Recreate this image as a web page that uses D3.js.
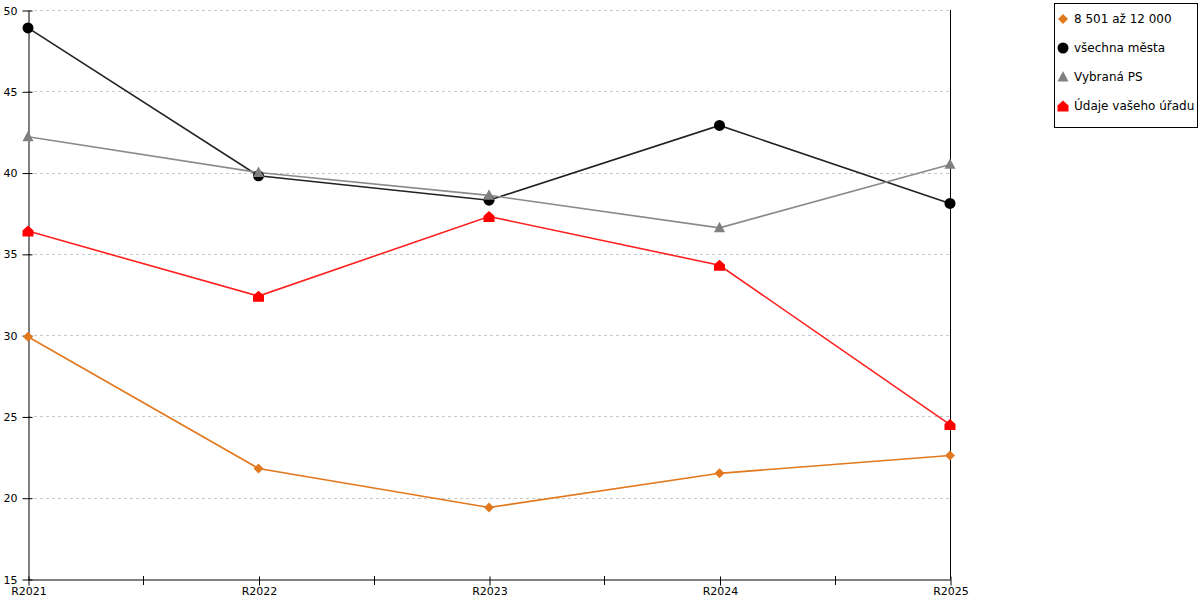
<!DOCTYPE html>
<html><head><meta charset="utf-8">
<script src="https://cdn.jsdelivr.net/npm/d3@7"></script>
<style>body{margin:0;background:#fff;}svg{display:block;font-family:"DejaVu Sans",Verdana,sans-serif;}</style>
</head><body>
<svg id="c" width="1200" height="600"></svg>
<script>
const categories = ["R2021","R2022","R2023","R2024","R2025"];
const seriesNames = ["8 501 až 12 000","všechna města","Vybraná PS","Údaje vašeho úřadu"];
const seriesColors = ["#e2781e","#000000","#808080","#ff0000"];
const lineColors = ["#e2781e","#222222","#8a8a8a","#ff2020"];
const seriesShapes = ["diamond","circle","triangle","house"];
const valsOrange = [29.9, 21.8, 19.4, 21.5, 22.6];
const valsBlack  = [48.9, 39.8, 38.3, 42.9, 38.1];
const valsGray   = [42.2, 40.0, 38.6, 36.6, 40.5];
const valsRed    = [36.4, 32.4, 37.3, 34.3, 24.5];
const yTicks = [15,20,25,30,35,40,45,50];
const series = [valsOrange, valsBlack, valsGray, valsRed];

const svg = d3.select("#c");
const L=28, R=950, T=10, B=579;
const x = d3.scalePoint().domain(categories).range([L,R]);
const y = d3.scaleLinear().domain([15,50]).range([B,T]);

// grid
svg.append("g").selectAll("line").data(yTicks.filter(d=>d>15)).join("line")
  .attr("x1",L).attr("x2",R).attr("y1",d=>Math.round(y(d))+0.5).attr("y2",d=>Math.round(y(d))+0.5)
  .attr("stroke","#c8c8c8").attr("stroke-dasharray","3,3").attr("stroke-width",1);

// right line
svg.append("line").attr("x1",R+0.5).attr("x2",R+0.5).attr("y1",T).attr("y2",B).attr("stroke","#000");

// y axis
const ya = svg.append("g").attr("transform",`translate(${L+0.5},0.5)`)
  .call(d3.axisLeft(y).tickValues(yTicks).tickSize(6).tickPadding(5).tickSizeOuter(0));
ya.select(".domain").attr("stroke","#000");
ya.selectAll(".tick line").attr("x2",4).attr("x1",-6);
ya.selectAll("text").attr("font-size","11px").attr("fill","#000").attr("font-family","DejaVu Sans");

// x axis
const xa = svg.append("g").attr("transform",`translate(0.5,${B+0.5})`)
  .call(d3.axisBottom(x).tickSize(6).tickPadding(2).tickSizeOuter(0));
xa.select(".domain").attr("stroke","#000");
xa.selectAll(".tick line").attr("y1",-3).attr("y2",6);
xa.selectAll("text").attr("font-size","11px").attr("fill","#000").attr("font-family","DejaVu Sans");
// midpoint ticks
const mids = d3.pairs(categories).map(p=>(x(p[0])+x(p[1]))/2);
svg.append("g").selectAll("line").data(mids).join("line")
  .attr("x1",d=>Math.round(d)+0.5).attr("x2",d=>Math.round(d)+0.5).attr("y1",B-3).attr("y2",B+6).attr("stroke","#000");

function marker(g, shape, color, cx, cy, s){
  const h = s/2;
  if(shape==="circle") g.append("circle").attr("cx",cx).attr("cy",cy).attr("r",h).attr("fill",color);
  else if(shape==="diamond") g.append("path").attr("d",`M${cx},${cy-h}L${cx+h},${cy}L${cx},${cy+h}L${cx-h},${cy}Z`).attr("fill",color);
  else if(shape==="triangle") g.append("path").attr("d",`M${cx},${cy-h*1.1}L${cx+h},${cy+h*0.8}L${cx-h},${cy+h*0.8}Z`).attr("fill",color);
  else if(shape==="house") g.append("path").attr("d",`M${cx},${cy-h}L${cx+h},${cy-h*0.1}L${cx+h},${cy+h}L${cx-h},${cy+h}L${cx-h},${cy-h*0.1}Z`).attr("fill",color);
}

const line = d3.line().x((d,i)=>x(categories[i])).y(d=>y(d));
series.forEach((vals,k)=>{
  svg.append("path").datum(vals).attr("d",line).attr("fill","none")
    .attr("stroke",lineColors[k]).attr("stroke-width",1.6);
});
series.forEach((vals,k)=>{
  const g = svg.append("g");
  vals.forEach((v,i)=>marker(g, seriesShapes[k], seriesColors[k], x(categories[i]), y(v), k===0?10:11));
});

// legend
const lg = svg.append("g");
lg.append("rect").attr("x",1054.5).attr("y",3.5).attr("width",143).attr("height",124)
  .attr("fill","#fff").attr("stroke","#000");
seriesNames.forEach((n,k)=>{
  const cy = 19 + k*29;
  marker(lg, seriesShapes[k], seriesColors[k], 1063, cy, k===0?10:11);
  lg.append("text").attr("x",1074).attr("y",cy).attr("dy","0.35em")
    .attr("font-size","12px").attr("fill","#000").text(n);
});
</script>
</body></html>
